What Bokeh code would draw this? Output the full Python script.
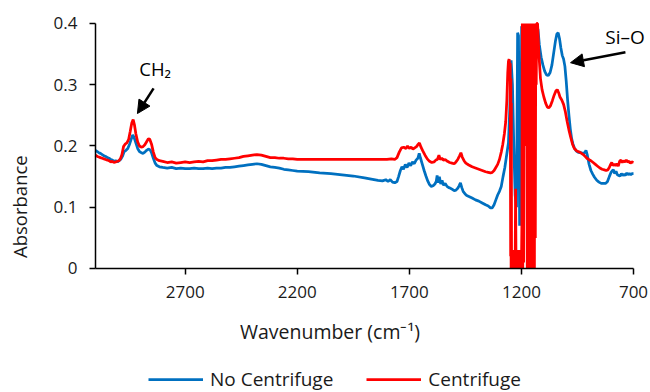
import math
from bokeh.plotting import figure
from bokeh.models import (Range1d, FixedTicker, Legend, LegendItem, Label,
                          Arrow, NormalHead)
from bokeh.embed import file_html
from bokeh.resources import INLINE

# ---------------- data (off-scale readings shown at the 0.4 ceiling) ----------------
x_ticks = [700, 1200, 1700, 2200, 2700]
y_ticks = [0, 0.1, 0.2, 0.3, 0.4]
y_tick_labels = ["0", "0.1", "0.2", "0.3", "0.4"]
series_names = ["No Centrifuge", "Centrifuge"]

wn_blue = [3100, 3092, 3085, 3078, 3070, 3062, 3055, 3047, 3040, 3032, 3025, 3018, 3010, 3002, 2995,
           2988, 2980, 2972, 2964, 2956, 2948, 2940, 2934, 2928, 2920, 2912, 2904, 2896, 2888, 2880,
           2872, 2864, 2857, 2850, 2842, 2834, 2826, 2815, 2800, 2780, 2760, 2740, 2720, 2700, 2680,
           2660, 2640, 2620, 2600, 2580, 2560, 2540, 2520, 2500, 2480, 2460, 2440, 2420, 2400, 2380,
           2360, 2340, 2320, 2300, 2280, 2260, 2240, 2220, 2200, 2150, 2100, 2050, 2000, 1950, 1900,
           1870, 1840, 1820, 1805, 1795, 1785, 1775, 1765, 1755, 1748, 1740, 1733, 1726, 1718, 1710,
           1702, 1694, 1686, 1678, 1670, 1662, 1656, 1650, 1642, 1634, 1626, 1618, 1610, 1602, 1594,
           1586, 1580, 1576, 1572, 1566, 1560, 1554, 1548, 1540, 1532, 1524, 1516, 1508, 1500, 1492,
           1484, 1478, 1472, 1466, 1460, 1452, 1444, 1432, 1420, 1405, 1390, 1375, 1360, 1348, 1338,
           1330, 1322, 1314, 1306, 1298, 1290, 1282, 1274, 1266, 1258, 1252, 1246, 1240, 1234, 1228,
           1222, 1217, 1213, 1208, 1204, 1199, 1190, 1180, 1170, 1160, 1150, 1140, 1132, 1126, 1120,
           1112, 1104, 1096, 1088, 1080, 1072, 1064, 1056, 1048, 1042, 1036, 1030, 1024, 1018, 1012,
           1006, 1000, 994, 988, 982, 976, 970, 964, 956, 948, 940, 934, 926, 918, 912,
           906, 898, 890, 882, 874, 864, 854, 844, 834, 824, 816, 808, 800, 794, 789,
           784, 778, 772, 766, 760, 754, 748, 742, 736, 730, 724, 718, 712, 706, 700]
abs_blue = [0.193, 0.191, 0.189, 0.188, 0.186, 0.184, 0.183, 0.181, 0.180, 0.178, 0.177, 0.175, 0.176, 0.174, 0.176,
            0.178, 0.183, 0.191, 0.193, 0.196, 0.203, 0.212, 0.218, 0.214, 0.205, 0.196, 0.191, 0.189, 0.188, 0.190,
            0.193, 0.195, 0.194, 0.189, 0.180, 0.172, 0.168, 0.166, 0.165, 0.164, 0.165, 0.163, 0.164, 0.163, 0.163,
            0.164, 0.163, 0.163, 0.164, 0.163, 0.164, 0.164, 0.165, 0.165, 0.166, 0.167, 0.168, 0.169, 0.170, 0.171,
            0.170, 0.168, 0.166, 0.165, 0.164, 0.162, 0.161, 0.160, 0.159, 0.158, 0.156, 0.155, 0.153, 0.151, 0.148,
            0.146, 0.144, 0.143, 0.145, 0.142, 0.145, 0.141, 0.140, 0.142, 0.150, 0.160, 0.166, 0.162, 0.170, 0.165,
            0.172, 0.168, 0.174, 0.171, 0.177, 0.180, 0.188, 0.180, 0.170, 0.160, 0.151, 0.143, 0.137, 0.134, 0.135,
            0.138, 0.142, 0.152, 0.140, 0.150, 0.138, 0.144, 0.136, 0.139, 0.134, 0.132, 0.131, 0.129, 0.127, 0.128,
            0.131, 0.135, 0.140, 0.132, 0.126, 0.122, 0.119, 0.117, 0.115, 0.112, 0.110, 0.107, 0.104, 0.102, 0.099,
            0.099, 0.104, 0.112, 0.120, 0.126, 0.134, 0.150, 0.165, 0.185, 0.205, 0.260, 0.340, 0.300, 0.200, 0.120,
            0.100, 0.385, 0.380, 0.070, 0.090, 0.395, 0.395, 0.395, 0.395, 0.395, 0.395, 0.395, 0.395, 0.390, 0.365,
            0.345, 0.332, 0.322, 0.316, 0.315, 0.320, 0.332, 0.352, 0.372, 0.383, 0.385, 0.375, 0.360, 0.348, 0.342,
            0.330, 0.305, 0.275, 0.250, 0.228, 0.212, 0.203, 0.197, 0.192, 0.190, 0.189, 0.189, 0.188, 0.189, 0.193,
            0.185, 0.170, 0.160, 0.154, 0.149, 0.144, 0.141, 0.139, 0.139, 0.139, 0.142, 0.150, 0.157, 0.160, 0.161,
            0.155, 0.159, 0.153, 0.152, 0.151, 0.155, 0.152, 0.154, 0.152, 0.156, 0.153, 0.155, 0.153, 0.155, 0.155]

wn_red = [3100, 3092, 3085, 3078, 3070, 3062, 3055, 3047, 3040, 3032, 3025, 3018, 3010, 3002, 2995,
          2988, 2982, 2975, 2968, 2960, 2952, 2945, 2938, 2932, 2926, 2920, 2912, 2904, 2896, 2888,
          2880, 2872, 2864, 2858, 2850, 2842, 2834, 2826, 2815, 2800, 2780, 2760, 2740, 2720, 2700,
          2680, 2660, 2640, 2620, 2600, 2580, 2560, 2540, 2520, 2500, 2480, 2460, 2440, 2420, 2400,
          2380, 2360, 2340, 2320, 2300, 2280, 2260, 2240, 2220, 2200, 2150, 2100, 2050, 2000, 1950,
          1900, 1850, 1800, 1780, 1765, 1755, 1745, 1735, 1725, 1715, 1708, 1700, 1692, 1684, 1676,
          1668, 1660, 1655, 1648, 1640, 1630, 1620, 1610, 1600, 1590, 1582, 1575, 1568, 1562, 1555,
          1548, 1540, 1530, 1520, 1510, 1500, 1492, 1484, 1476, 1470, 1464, 1456, 1448, 1435, 1420,
          1405, 1390, 1375, 1360, 1348, 1338, 1330, 1322, 1314, 1306, 1298, 1290, 1283, 1276, 1270,
          1265, 1261, 1258, 1255, 1252, 1250, 1248, 1247, 1246, 1245, 1244, 1243, 1240, 1237, 1234,
          1231, 1228, 1226, 1224, 1221, 1218, 1215, 1212, 1209, 1206, 1203, 1200, 1198, 1196, 1194,
          1192, 1190, 1188, 1186, 1184, 1182, 1180, 1178, 1176, 1174, 1172, 1170, 1168, 1166, 1164,
          1162, 1160, 1158, 1156, 1154, 1152, 1150, 1148, 1146, 1144, 1142, 1140, 1138, 1136, 1134,
          1132, 1128, 1122, 1115, 1108, 1100, 1092, 1085, 1078, 1070, 1062, 1054, 1046, 1040, 1034,
          1028, 1020, 1012, 1004, 996, 988, 980, 972, 964, 956, 948, 940, 932, 924, 916,
          908, 900, 890, 880, 870, 860, 850, 840, 830, 822, 815, 808, 802, 797, 792,
          786, 780, 774, 768, 762, 756, 750, 744, 738, 732, 726, 720, 714, 708, 700]
abs_red = [0.185, 0.183, 0.182, 0.181, 0.180, 0.179, 0.178, 0.177, 0.176, 0.174, 0.175, 0.173, 0.174, 0.175, 0.176,
           0.180, 0.186, 0.199, 0.203, 0.205, 0.211, 0.224, 0.238, 0.243, 0.234, 0.220, 0.207, 0.200, 0.198, 0.199,
           0.202, 0.207, 0.212, 0.211, 0.203, 0.190, 0.181, 0.178, 0.176, 0.175, 0.173, 0.174, 0.172, 0.173, 0.174,
           0.173, 0.174, 0.175, 0.174, 0.176, 0.176, 0.177, 0.178, 0.178, 0.179, 0.180, 0.181, 0.183, 0.184, 0.185,
           0.186, 0.185, 0.183, 0.181, 0.181, 0.180, 0.180, 0.179, 0.179, 0.178, 0.178, 0.178, 0.178, 0.178, 0.178,
           0.178, 0.178, 0.178, 0.179, 0.178, 0.181, 0.190, 0.197, 0.198, 0.196, 0.200, 0.196, 0.198, 0.195, 0.197,
           0.199, 0.203, 0.205, 0.198, 0.192, 0.185, 0.179, 0.175, 0.173, 0.174, 0.177, 0.178, 0.185, 0.178, 0.180,
           0.177, 0.178, 0.175, 0.173, 0.172, 0.171, 0.174, 0.178, 0.184, 0.189, 0.182, 0.176, 0.172, 0.169, 0.166,
           0.164, 0.162, 0.160, 0.158, 0.157, 0.156, 0.157, 0.160, 0.165, 0.170, 0.178, 0.190, 0.203, 0.220, 0.240,
           0.275, 0.320, 0.338, 0.342, 0.330, 0.335, 0.020, 0.310, 0.000, 0.270, 0.000, 0.030, 0.000, 0.025, 0.000,
           0.030, 0.005, 0.130, 0.000, 0.030, 0.000, 0.020, 0.000, 0.030, 0.000, 0.020, 0.000, 0.070, 0.400, 0.000,
           0.400, 0.010, 0.400, 0.200, 0.400, 0.250, 0.400, 0.220, 0.400, 0.000, 0.400, 0.000, 0.400, 0.000, 0.400,
           0.000, 0.400, 0.000, 0.400, 0.000, 0.400, 0.000, 0.400, 0.000, 0.400, 0.000, 0.400, 0.050, 0.400, 0.300,
           0.400, 0.400, 0.350, 0.310, 0.292, 0.280, 0.270, 0.264, 0.262, 0.266, 0.274, 0.283, 0.290, 0.292, 0.287,
           0.280, 0.275, 0.268, 0.256, 0.240, 0.226, 0.214, 0.203, 0.196, 0.193, 0.191, 0.190, 0.188, 0.186, 0.183,
           0.180, 0.178, 0.176, 0.173, 0.170, 0.167, 0.164, 0.162, 0.161, 0.160, 0.161, 0.165, 0.170, 0.173, 0.168,
           0.170, 0.168, 0.171, 0.167, 0.175, 0.177, 0.173, 0.176, 0.174, 0.177, 0.174, 0.175, 0.172, 0.174, 0.173]

# ---------------- figure ----------------
FONT = "Open Sans"
TXT = "#1a1a1a"
# The frame fills the whole canvas; the axes are pinned at x=3100 / y=0 and bounded
# so they look like Excel's, leaving the titles and legend inside the canvas.
p = figure(width=650, height=392,
           x_range=Range1d(3523.8, 624.2), y_range=Range1d(-0.20245, 0.43755),
           output_backend="svg", toolbar_location=None,
           min_border_left=0, min_border_right=0, min_border_top=0, min_border_bottom=0)
p.xgrid.visible = False
p.ygrid.visible = False
p.outline_line_color = None
p.background_fill_color = "white"
p.border_fill_color = "white"

for ax in (p.xaxis[0], p.yaxis[0]):
    ax.axis_line_color = "black"
    ax.axis_line_width = 1.5
    ax.major_tick_line_color = "black"
    ax.major_tick_line_width = 1.5
    ax.major_tick_in = 0
    ax.major_tick_out = 6
    ax.minor_tick_line_color = None
    ax.major_label_text_font = FONT
    ax.major_label_text_font_size = "17px"
    ax.major_label_text_color = TXT
    ax.major_label_standoff = 12

p.xaxis.fixed_location = 0
p.xaxis.bounds = (700, 3100)
p.yaxis.fixed_location = 3100
p.yaxis.bounds = (0, 0.4)
p.xaxis.ticker = FixedTicker(ticks=x_ticks)
p.yaxis.ticker = FixedTicker(ticks=y_ticks)
p.yaxis.major_label_overrides = {t: s for t, s in zip(y_ticks, y_tick_labels)}

r_blue = p.line(wn_blue, abs_blue, line_color="#0070C0", line_width=2.75)
r_red = p.line(wn_red, abs_red, line_color="#FF0000", line_width=2.75)

# axis titles
p.add_layout(Label(x=2054, y=-0.103, text="Wavenumber (cm\u207b\u00b9)", text_font=FONT,
                   text_font_size="19.5px", text_color=TXT,
                   text_align="center", text_baseline="middle"))
p.add_layout(Label(x=3439, y=0.101, text="Absorbance", text_font=FONT, angle=math.pi / 2,
                   text_font_size="18.5px", text_color=TXT,
                   text_align="center", text_baseline="middle"))

legend = Legend(items=[LegendItem(label=series_names[0], renderers=[r_blue]),
                       LegendItem(label=series_names[1], renderers=[r_red])],
                orientation="horizontal", location=(148, 0),
                label_text_font=FONT, label_text_font_size="19px", label_text_color=TXT,
                glyph_width=55, glyph_height=20, label_standoff=7, spacing=33,
                padding=0, margin=0, border_line_color=None, background_fill_alpha=0)
p.add_layout(legend)

# peak annotations
p.add_layout(Label(x=2834, y=0.3265, text="CH\u2082", text_font=FONT, text_font_size="18.5px",
                   text_color="black", text_align="center", text_baseline="middle"))
p.add_layout(Label(x=738, y=0.378, text="Si\u2013O", text_font=FONT, text_font_size="19px",
                   text_color="black", text_align="center", text_baseline="middle"))
p.add_layout(Arrow(end=NormalHead(size=13, fill_color="black", line_color="black"),
                   x_start=2841, y_start=0.294, x_end=2913, y_end=0.253,
                   line_color="black", line_width=2.5))
p.add_layout(Arrow(end=NormalHead(size=13, fill_color="black", line_color="black"),
                   x_start=736, y_start=0.353, x_end=981, y_end=0.336,
                   line_color="black", line_width=2.5))

open("out.html", "w").write(file_html(p, INLINE))
